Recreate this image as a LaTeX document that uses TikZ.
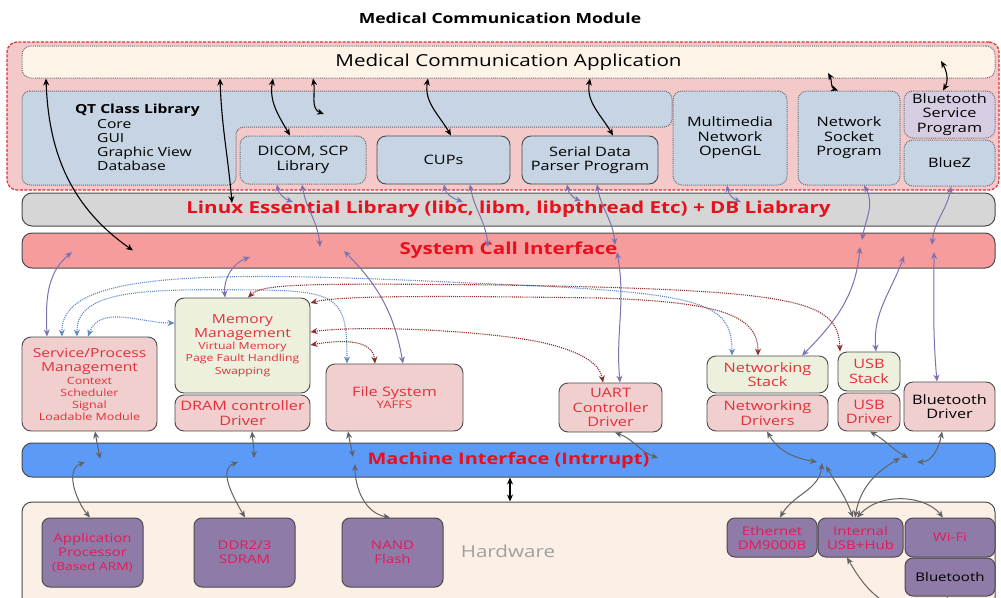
\documentclass[tikz,border=0pt]{standalone}
\usepackage{fontspec}
\setmainfont{Open Sans}[FakeStretch=1.25]
\usetikzlibrary{arrows.meta}
\definecolor{outerpink}{HTML}{F3C9C9}
\definecolor{outerred}{HTML}{E0303A}
\definecolor{appfill}{HTML}{FDF3E7}
\definecolor{qtblue}{HTML}{C6D4E4}
\definecolor{dotc}{HTML}{6A6A70}
\definecolor{edge}{HTML}{4A4A4A}
\definecolor{libgray}{HTML}{D6D6D6}
\definecolor{sysfill}{HTML}{F69C9C}
\definecolor{kpink}{HTML}{F1CFCF}
\definecolor{kgreen}{HTML}{EEF0DE}
\definecolor{machblue}{HTML}{5B9BF7}
\definecolor{hwfill}{HTML}{FCEFE6}
\definecolor{hwpur}{HTML}{8F7BA8}
\definecolor{hwtxt}{HTML}{E01C5A}
\definecolor{btsfill}{HTML}{D7CDE2}
\definecolor{txtred}{HTML}{E2303A}
\definecolor{barred}{HTML}{E8101C}
\definecolor{purc}{HTML}{7C72B2}
\definecolor{gryc}{HTML}{626262}
\definecolor{bdotc}{HTML}{5F88C6}
\definecolor{rdotc}{HTML}{8C2C2C}
\newcommand{\szbig}{\fontsize{12.5}{12}\selectfont}
\newcommand{\szsm}{\fontsize{10}{12}\selectfont}
\newcommand{\szvm}{\fontsize{9.8}{12}\selectfont}
\begin{document}
\begin{tikzpicture}[x=1pt,y=-1pt,
  box/.style={draw=edge, line width=0.9pt, rounded corners=9pt, inner sep=0pt, align=center, font=\fontsize{13}{14.5}\selectfont},
  dbox/.style={box, draw=dotc, densely dotted, line width=1pt},
  bar/.style={draw=edge, line width=1pt, rounded corners=10pt, inner sep=0pt, font=\bfseries\fontsize{16.5}{18}\selectfont, text=barred},
  hwbox/.style={draw=edge, fill=hwpur, line width=1pt, rounded corners=8pt, inner sep=0pt, align=center, text=hwtxt, font=\fontsize{12}{14}\selectfont},
  blk/.style={draw=black, line width=1.1pt, {Stealth[length=7pt,width=6pt]}-{Stealth[length=7pt,width=6pt]}},
  pur/.style={draw=purc, line width=1pt, {Stealth[length=7pt,width=6pt]}-{Stealth[length=7pt,width=6pt]}},
  gry/.style={draw=gryc, line width=1pt, {Stealth[length=7pt,width=6pt]}-{Stealth[length=7pt,width=6pt]}},
  bdot/.style={draw=bdotc, line width=1.1pt, densely dotted, {Stealth[length=7pt,width=6pt]}-{Stealth[length=7pt,width=6pt]}},
  rdot/.style={draw=rdotc, line width=1.1pt, densely dotted, {Stealth[length=7pt,width=6pt]}-{Stealth[length=7pt,width=6pt]}}
]
\useasboundingbox (0,0) rectangle (1001,597);
\fill[white] (0,0) rectangle (1001,597);

% title
\node[font=\bfseries\fontsize{14}{16}\selectfont] (title) at (500,18) {Medical Communication Module};

% outer red dashed area
\node[draw=outerred, fill=outerpink, dash pattern=on 3pt off 1.5pt, line width=1.2pt, rounded corners=10pt,
      minimum width=992, minimum height=148, inner sep=0pt] (outer) at (503,116) {};

% application
\node[dbox, fill=appfill, minimum width=973, minimum height=32, font=\fontsize{16.5}{18}\selectfont] (app) at (508.5,62) {Medical Communication Application};

% QT region
\draw[draw=dotc, densely dotted, line width=1pt, fill=qtblue, rounded corners=8pt]
  (22,91) -- (672,91) -- (672,127) -- (236,127) -- (236,185) -- (22,185) -- cycle;
\node[align=left, anchor=north west, inner sep=0pt, font=\fontsize{12.5}{14.3}\selectfont] (qt) at (75,104)
  {\textbf{QT Class Library}\\\hspace*{22pt}Core\\\hspace*{22pt}GUI\\\hspace*{22pt}Graphic View\\\hspace*{22pt}Database};

\node[dbox, fill=qtblue, minimum width=126, minimum height=48] (dicom) at (303,160) {DICOM, SCP\\Library};
\node[box, fill=qtblue, minimum width=133, minimum height=48] (cups) at (443.5,160) {CUPs};
\node[box, fill=qtblue, minimum width=136, minimum height=48] (serial) at (590,160) {Serial Data\\Parser Program};
\node[dbox, fill=qtblue, minimum width=114, minimum height=94] (mm) at (730,138) {Multimedia\\Network\\OpenGL};
\node[dbox, fill=qtblue, minimum width=102, minimum height=94] (sock) at (849,138) {Network\\Socket\\Program};
\node[dbox, fill=btsfill, minimum width=91, minimum height=47] (bts) at (949.5,114.5) {Bluetooth\\Service\\Program};
\node[dbox, fill=qtblue, minimum width=91, minimum height=46] (bz) at (949.5,163) {BlueZ};

% bars
\node[bar, fill=libgray, minimum width=973, minimum height=33] (lib) at (508.5,209.5) {Linux Essential Library (libc, libm, libpthread Etc) + DB Liabrary};
\node[bar, fill=sysfill, minimum width=973, minimum height=35] (sys) at (508.5,250.5) {System Call Interface};

% kernel blocks
\node[box, fill=kpink, text=txtred, minimum width=135, minimum height=94, font=\szbig] (spm) at (89.5,384)
  {Service/Process\\[2pt]Management\\[1pt]\szsm Context\\\szsm Scheduler\\\szsm Signal\\\szsm Loadable Module};
\node[box, fill=kgreen, text=txtred, minimum width=135, minimum height=95, font=\szbig] (mem) at (242.5,345.5)
  {Memory\\[2pt]Management\\\szvm Virtual Memory\\\szvm Page Fault Handling\\[1pt]\szvm Swapping};
\node[box, fill=kpink, text=txtred, minimum width=135, minimum height=36] (dram) at (242.5,413) {DRAM controller\\Driver};
\node[box, fill=kpink, text=txtred, minimum width=137, minimum height=67] (fs) at (394.5,397.5) {File System\\[-2pt]\fontsize{10.5}{12}\selectfont YAFFS};
\node[box, fill=kpink, text=txtred, minimum width=103, minimum height=49] (uart) at (610.5,407.5) {UART\\Controller\\Driver};
\node[box, fill=kgreen, text=txtred, minimum width=121, minimum height=37] (nstack) at (767.5,374.5) {Networking\\Stack};
\node[box, fill=kpink, text=txtred, minimum width=121, minimum height=36] (ndrv) at (767.5,413) {Networking\\Drivers};
\node[box, fill=kgreen, text=txtred, minimum width=62, minimum height=39] (usbs) at (869,371.5) {USB\\Stack};
\node[box, fill=kpink, text=txtred, minimum width=62, minimum height=38] (usbd) at (869,412) {USB\\Driver};
\node[box, fill=kpink, minimum width=91, minimum height=49] (btd) at (949.5,406.5) {Bluetooth\\Driver};

% machine interface
\node[bar, fill=machblue, minimum width=973, minimum height=34, font=\bfseries\fontsize{16}{18}\selectfont] (mach) at (508.5,460) {Machine Interface (Intrrupt)};

% hardware
\node[draw=edge, fill=hwfill, line width=1pt, rounded corners=10pt, minimum width=973, minimum height=120, inner sep=0pt] (hw) at (508.5,562) {};
\node[text=gray!75, font=\fontsize{16.5}{18}\selectfont] (hwtext) at (508,551) {Hardware};
\node[hwbox, minimum width=101, minimum height=69] (ap) at (92.5,552.5) {Application\\Processor\\\fontsize{11}{13}\selectfont (Based ARM)};
\node[hwbox, minimum width=101, minimum height=69] (ddr) at (244.5,552.5) {DDR2/3\\SDRAM};
\node[hwbox, minimum width=101, minimum height=69] (nand) at (392.5,552.5) {NAND\\Flash};
\node[hwbox, minimum width=90, minimum height=39] (eth) at (772,537.5) {Ethernet\\DM9000B};
\node[hwbox, minimum width=85, minimum height=39] (hub) at (860.5,537.5) {Internal\\USB+Hub};
\node[hwbox, minimum width=90, minimum height=39] (wifi) at (950,537.5) {Wi-Fi};
\node[hwbox, text=black, minimum width=90, minimum height=38] (bt) at (950,577) {Bluetooth};

% free ends
\coordinate (b4) at (324,114);
\coordinate (below1) at (905,612);
\coordinate (below2) at (950,618);

% black connectors
\draw[blk] (app.south -| 46,0) to[out=-88,in=145] (133,0 |- sys);
\draw[blk] (app.south -| 220,0) to[out=-88,in=95] (232,203);
\draw[blk] (app.south -| 273,0) to[out=-100,in=120] (dicom.north -| 290,0);
\draw[blk] (app.south -| 313,0) to[out=-80,in=160] (b4);
\draw[blk] (app.south -| 428,0) to[out=-100,in=120] (cups.north -| 451,0);
\draw[blk] (app.south -| 590,0) to[out=-100,in=120] (serial.north -| 613,0);
\draw[blk] (828,73) to[out=-60,in=160] (sock.north -| 838,0);
\draw[blk] (941,61) to[out=-60,in=60] (bts.north -| 943,0);

% purple connectors, top
\draw[pur] (dicom.south -| 277,0) to[out=-80,in=160] (293,202);
\draw[pur] (dicom.south -| 302,0) to[out=-80,in=95] (320,247);
\draw[pur] (cups.south -| 444,0) to[out=-80,in=160] (463,202);
\draw[pur] (cups.south -| 470,0) to[out=-80,in=95] (488,247);
\draw[pur] (serial.south -| 567,0) to[out=-80,in=160] (581,201);
\draw[pur] (serial.south -| 597,0) to[out=-80,in=95] (615,245);
\draw[pur] (mm.south -| 727,0) to[out=-80,in=160] (741,202);
\draw[pur] (sock.south -| 864,0) to[out=-60,in=80] (862,240);
\draw[pur] (bz.south -| 951,0) to[out=-100,in=85] (932,245);

% purple connectors, system call to kernel
\draw[pur] (spm.north -| 47,0) to[out=92,in=-140] (72,252);
\draw[pur] (mem.north -| 225,0) to[out=95,in=200] (250,257);
\draw[pur] (fs.north -| 403,0) to[out=100,in=-45] (344,251);
\draw[pur] (uart.north -| 620,0) to[out=95,in=-80] (617,252);
\draw[pur] (nstack.north -| 802,0) to[out=45,in=-95] (860,247);
\draw[pur] (usbs.north -| 876,0) to[out=95,in=-110] (904,256);
\draw[pur] (btd.north -| 937,0) to[out=95,in=-90] (934,252);

% dotted connectors
\draw[bdot] (mem.west |- 0,323) to[out=180,in=70] (spm.north -| 88,0);
\draw[bdot] (spm.north -| 62,0) .. controls (60,272) and (200,270) .. (470,283) .. controls (700,292) and (732,300) .. (nstack.north -| 732,0);
\draw[bdot] (spm.north -| 77,0) .. controls (76,288) and (150,289) .. (260,290) .. controls (340,291) and (347,300) .. (fs.north -| 347,0);
\draw[rdot] (mem.north -| 248,0) .. controls (262,284) and (300,283) .. (500,285) .. controls (800,290) and (838,300) .. (usbs.north -| 840,0);
\draw[rdot] (mem.east |- 0,303) .. controls (340,295) and (450,296) .. (600,298) .. controls (720,302) and (758,315) .. (nstack.north -| 758,0);
\draw[rdot] (mem.east |- 0,332) .. controls (360,325) and (480,330) .. (540,342) .. controls (585,352) and (600,365) .. (uart.north -| 603,0);
\draw[rdot] (mem.east |- 0,345) to[out=10,in=95] (fs.north -| 375,0);

% gray connectors, kernel to machine interface and hardware
\draw[gry] (spm.south -| 95,0) to[out=-80,in=100] (100,459);
\draw[gry] (ap.north -| 90,0) to[out=130,in=200] (85,462);
\draw[gry] (dram.south -| 252,0) to[out=-85,in=90] (254,458);
\draw[gry] (ddr.north -| 245,0) to[out=120,in=200] (238,462);
\draw[gry] (fs.south -| 348,0) to[out=-80,in=100] (353,457);
\draw[gry] (nand.north -| 390,0) to[out=170,in=-90] (355,464);
\draw[gry] (uart.south -| 615,0) to[out=-20,in=160] (658,458);
\draw[gry] (ndrv.south -| 767,0) to[out=-60,in=170] (817,462);
\draw[gry] (eth.north -| 780,0) to[out=60,in=-95] (822,463);
\draw[gry] (hub.north -| 853,0) to[out=110,in=-60] (826,466);
\draw[gry] (hub.north -| 855,0) to[out=80,in=-150] (900,458);
\draw[gry] (usbd.south -| 870,0) to[out=-30,in=150] (908,458);
\draw[gry] (btd.south -| 942,0) to[out=-100,in=0] (917,462);
\draw[gry] (hub.north -| 857,0) .. controls (880,492) and (925,495) .. (wifi.north -| 943,0);
\draw[gry, -{Stealth[length=7pt,width=6pt]}] (below1) to[out=160,in=-60] (hub.south -| 847,0);
\draw[gry, -{Stealth[length=7pt,width=6pt]}] (below2) -- (bt.south -| 947,0);

% machine interface to hardware
\draw[blk] (mach.south -| 510,0) -- (hw.north -| 510,0);
\end{tikzpicture}
\end{document}
